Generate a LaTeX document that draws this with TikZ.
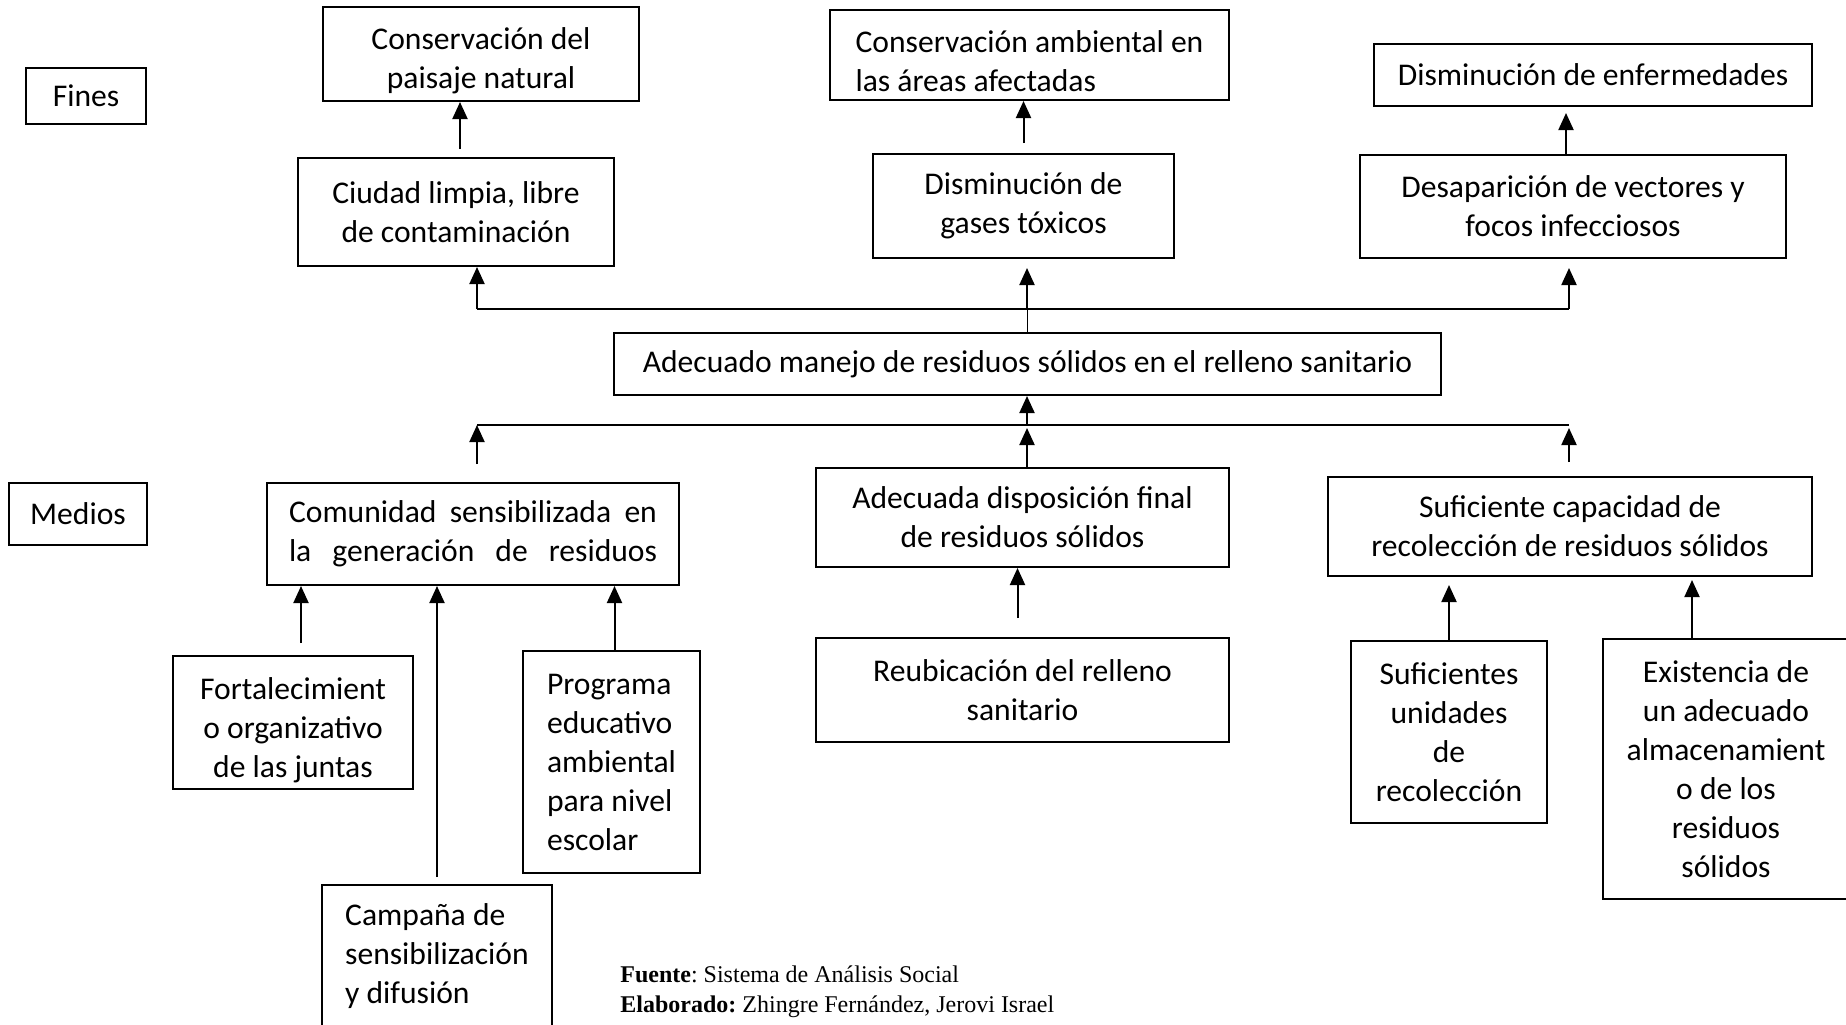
\documentclass[tikz,border=0pt]{standalone}
\usepackage{fontspec}
\setmainfont{Carlito}
\newfontfamily\timesfont{Liberation Serif}
\usetikzlibrary{arrows.meta}
\frenchspacing

\tikzset{
	caja/.style={draw, line width=1pt, inner sep=0pt, align=center, font=\fontsize{15.8}{19.5}\selectfont},
	flecha/.style={-{Triangle[length=8.5pt,width=7.5pt]}, line width=1pt},
	pie/.style={anchor=base west, inner sep=0pt, font=\timesfont\fontsize{12}{15}\selectfont}
}

\begin{document}
\begin{tikzpicture}[x=0.5pt, y=-0.5pt]
	\useasboundingbox (0,0) rectangle (1846,1024);
	\clip (0,0) rectangle (1846,1024);

	\node[caja, minimum width=60pt, minimum height=28pt] (fines) at (86,96) {Fines};
	\node[caja, minimum width=158pt, minimum height=47pt] (paisaje) at (481,54) {\rule{0pt}{18pt}Conservación del\\paisaje natural};
	\node[caja, align=left, minimum width=199.5pt, minimum height=45pt] (ambiental) at (1029.5,55) {\rule{0pt}{17pt}Conservación ambiental en\\las áreas afectadas};
	\node[caja, minimum width=219pt, minimum height=31pt] (enfermedades) at (1593,75) {Disminución de enfermedades};
	\node[caja, minimum width=158pt, minimum height=54pt] (ciudad) at (456,212) {Ciudad limpia, libre\\de contaminación};
	\node[caja, minimum width=150.5pt, minimum height=52pt] (gases) at (1023.5,206) {Disminución de\\gases tóxicos};
	\node[caja, minimum width=213pt, minimum height=51.5pt] (vectores) at (1573,206.5) {Desaparición de vectores y\\focos infecciosos};
	\node[caja, minimum width=413.5pt, minimum height=31pt] (manejo) at (1027.5,364) {Adecuado manejo de residuos sólidos en el relleno sanitario};

	\node[caja, minimum width=69pt, minimum height=31pt] (medios) at (78,514) {Medios};
	\node[caja, text width=184pt, minimum width=206pt, minimum height=51pt] (comunidad) at (473,534) {Comunidad\hfill sensibilizada\hfill en\\la\hfill generación\hfill de\hfill residuos};
	\node[caja, minimum width=206.5pt, minimum height=49.5pt] (disposicion) at (1022.5,517.5) {Adecuada disposición final\\de residuos sólidos};
	\node[caja, minimum width=242pt, minimum height=49.5pt] (capacidad) at (1570,526.5) {Suficiente capacidad de\\recolección de residuos sólidos};
	\node[caja, minimum width=120pt, minimum height=66.5pt] (fortalecimiento) at (293,722.5) {\rule{0pt}{19pt}Fortalecimient\\o organizativo\\de las juntas};
	\node[caja, align=left, minimum width=88.5pt, minimum height=111pt] (programa) at (611.5,762) {Programa\\educativo\\ambiental\\para nivel\\escolar};
	\node[caja, align=left, minimum width=115pt, minimum height=71pt] (campana) at (437,956) {Campaña de\\sensibilización\\y difusión};
	\node[caja, minimum width=206.5pt, minimum height=52pt] (reubicacion) at (1022.5,690) {Reubicación del relleno\\sanitario};
	\node[caja, minimum width=98pt, minimum height=91pt] (unidades) at (1449,732) {Suficientes\\unidades\\de\\recolección};
	\node[caja, minimum width=123pt, minimum height=130pt] (existencia) at (1726,769) {Existencia de\\un adecuado\\almacenamient\\o de los\\residuos\\sólidos};

	\node[pie] (fuente) at (620,982) {\textbf{Fuente}: Sistema de Análisis Social};
	\node[pie] (elaborado) at (620,1012) {\textbf{Elaborado:} Zhingre Fernández, Jerovi Israel};

	\coordinate (ftl) at (477,309);
	\coordinate (ftm) at (1027,309);
	\coordinate (ftr) at (1569,309);
	\coordinate (mbl) at (477,425);
	\coordinate (mbm) at (1027,425);
	\coordinate (mbr) at (1569,425);

	\draw[flecha] ([xshift=2pt,yshift=4pt]ciudad.north) -- ([xshift=2pt]ciudad.north |- paisaje.south);
	\draw[flecha] ([yshift=5pt]gases.north) -- (gases.north |- ambiental.south);
	\draw[flecha, shorten >=3pt] ([xshift=-3.5pt]vectores.north) -- ([xshift=-3.5pt]vectores.north |- enfermedades.south);

	\draw[line width=1pt] (ftl) -- (ftr);
	\draw[line width=0.5pt] (manejo.north) -- (manejo.north |- ftm);
	\draw[flecha] (ftl) -- (ftl |- ciudad.south);
	\draw[flecha, shorten >=4.5pt] (ftm) -- (ftm |- gases.south);
	\draw[flecha, shorten >=4.5pt] (ftr) -- (ftr |- vectores.south);

	\draw[line width=1pt] (mbl) -- (mbr);
	\draw[flecha] (mbm) -- (mbm |- manejo.south);
	\draw[flecha] ([yshift=9pt]comunidad.north -| mbl) -- (mbl);
	\draw[flecha, shorten >=1.5pt] (disposicion.north -| mbm) -- (mbm);
	\draw[flecha, shorten >=1.5pt] ([yshift=7pt]capacidad.north -| mbr) -- (mbr);

	\draw[flecha] ([xshift=4pt,yshift=6pt]fortalecimiento.north) -- ([xshift=4pt]fortalecimiento.north |- comunidad.south);
	\draw[flecha] ([yshift=3.5pt]campana.north) -- (campana.north |- comunidad.south);
	\draw[flecha] ([xshift=1.5pt]programa.north) -- ([xshift=1.5pt]programa.north |- comunidad.south);
	\draw[flecha] ([xshift=-2.5pt,yshift=9.5pt]reubicacion.north) -- ([xshift=-2.5pt]reubicacion.north |- disposicion.south);
	\draw[flecha, shorten >=4pt] (unidades.north) -- (unidades.north |- capacidad.south);
	\draw[flecha, shorten >=1.5pt] ([xshift=-17pt]existencia.north) -- ([xshift=-17pt]existencia.north |- capacidad.south);
\end{tikzpicture}
\end{document}
